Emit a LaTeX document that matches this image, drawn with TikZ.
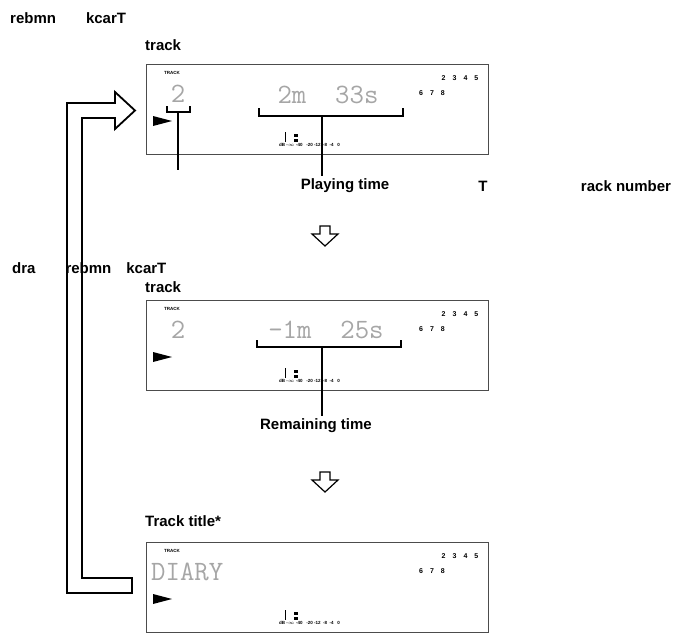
\documentclass[tikz,border=0pt]{standalone}
\usepackage{fontspec}
\setmainfont{Liberation Sans}
\begin{document}
\begin{tikzpicture}[x=1pt,y=-1pt,
 lbl/.style={font=\bfseries\fontsize{15}{17}\selectfont,inner sep=0},
 disp/.style={draw=black!70,line width=1pt},
 seg/.style={font=\fontsize{28}{30}\selectfont\ttfamily,text=black!35,inner sep=0},
 tiny/.style={font=\bfseries\fontsize{4.5}{5}\selectfont,inner sep=0},
 sm/.style={font=\bfseries\fontsize{7}{8}\selectfont,inner sep=0},
 brk/.style={line width=2pt},
 lead/.style={line width=1.3pt},
 hollow/.style={draw,line width=1.2pt,fill=white}]
\useasboundingbox (0,0) rectangle (690,634);
% labels
\node[lbl,anchor=west] (l1) at (10,18) {rebmn\qquad kcarT};
\node[lbl,anchor=west] (t1) at (145,45) {track};
\node[lbl] (pt) at (345,186) {Playing time};
\node[lbl] (tt) at (483,186) {T};
\node[lbl] (rn) at (626,186) {rack number};
\node[lbl,anchor=west] (l2) at (12,268) {dra\qquad rebmn\quad kcarT};
\node[lbl,anchor=west] (t2) at (145,287) {track};
\node[lbl] (rt) at (316,426) {Remaining time};
\node[lbl,anchor=west] (t3) at (145,521) {Track title*};
% displays
\foreach \n/\y in {a/64,b/300,c/542}{
 \draw[disp] (146,\y) rectangle (488,\y+90);
 \node[tiny] (tr\n) at (172,\y+9) {TRACK};
 \fill (153,\y+52) -- (172,\y+57) -- (153,\y+62) -- cycle;
 \node[sm] (n\n) at (460,\y+14) {2\hspace{7pt}3\hspace{7pt}4\hspace{7pt}5};
 \node[sm] (m\n) at (432,\y+29) {6\hspace{7pt}7\hspace{7pt}8};
 \node[tiny,anchor=west] (v\n) at (279,\y+81) {dB -$\infty$ -40 \ \ -20 -12 \ -8 \ -4 \ \ 0};
 \fill (294,\y+70) rectangle (298,\y+73);
 \fill (294,\y+75) rectangle (298,\y+78);
 \draw[line width=0.6pt] (285,\y+68) -- (285,\y+78);
}
\node[seg] (d1) at (178,94) {2};
\node[seg] (tm1) at (328,95) {2m\ \ 33s};
\node[seg] (d2) at (178,330) {2};
\node[seg] (tm2) at (326,330) {-1m\ \ 25s};
\node[seg,anchor=west] (d3) at (151,572) {DIARY};
% brackets and leaders
\draw[brk] (167,106) -- (167,112) -- (190,112) -- (190,106);
\draw[lead] (178,112) -- (178,170);
\draw[brk] (259,108) -- (259,116) -- (403,116) -- (403,108);
\draw[lead] (322,116) -- (322,176);
\draw[brk] (257,340) -- (257,347) -- (401,347) -- (401,340);
\draw[lead] (322,347) -- (322,416);
% hollow down arrows
\foreach \y in {226,472}{
 \draw[hollow] (320,\y) -- (330,\y) -- (330,\y+8) -- (338,\y+8) -- (325,\y+20) -- (312,\y+8) -- (320,\y+8) -- cycle;
}
% loop arrow
\draw[line width=1.8pt,line join=miter] (115,103) -- (67,103) -- (67,593) -- (132,593) -- (132,578) -- (82,578) -- (82,118) -- (115,118) -- (115,129) -- (135,110.5) -- (115,92) -- cycle;
\end{tikzpicture}
\end{document}
